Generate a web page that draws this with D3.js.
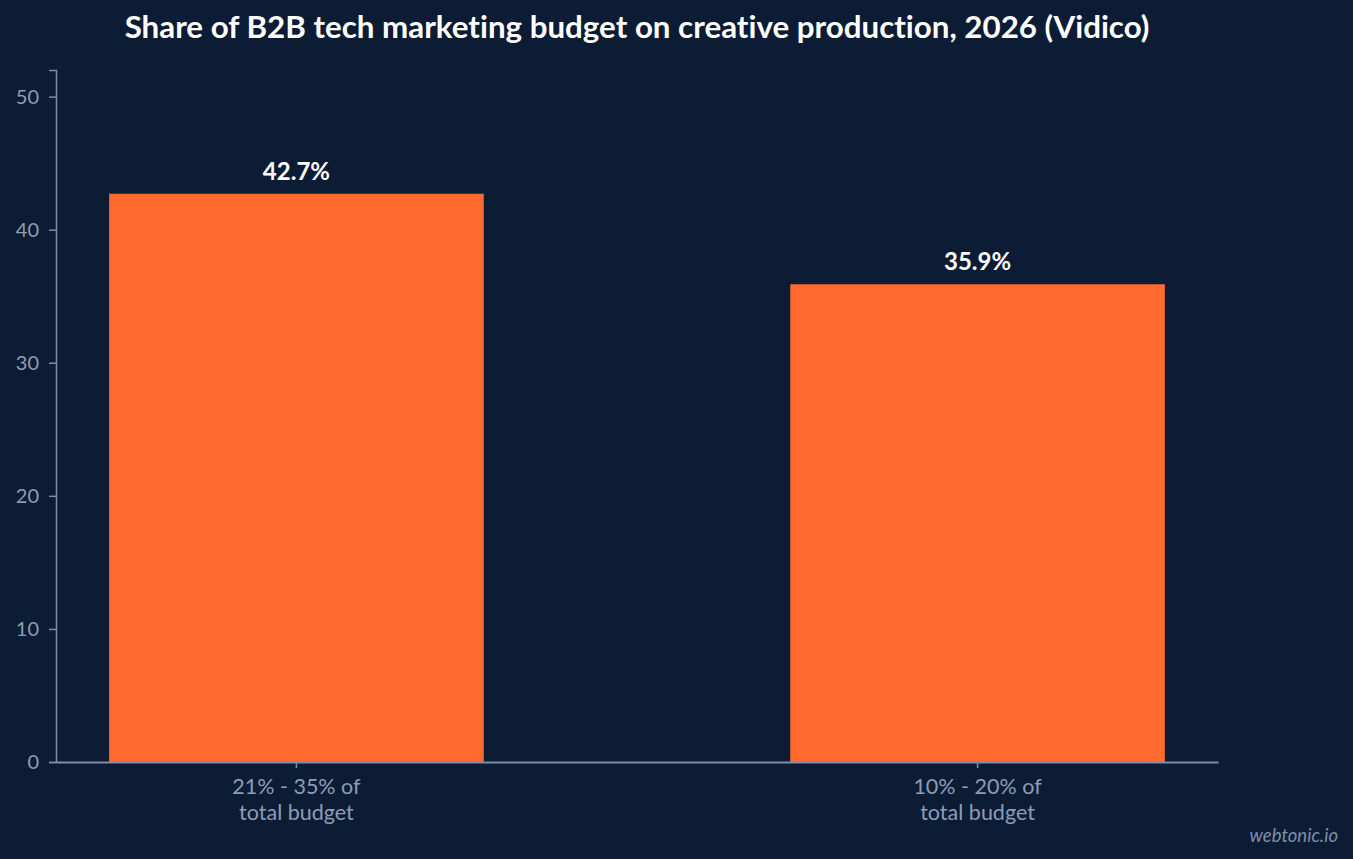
<!DOCTYPE html>
<html>
<head>
<meta charset="utf-8">
<script src="https://cdn.jsdelivr.net/npm/d3@7"></script>
<style>
  html, body { margin: 0; padding: 0; background: #0c1c34; }
  svg { display: block; font-family: Lato, "Open Sans", sans-serif; font-variant-ligatures: none; }
</style>
</head>
<body>
<svg id="chart"></svg>
<script>
// data
const categories = ["21% - 35% of\ntotal budget", "10% - 20% of\ntotal budget"];
const shares = [42.7, 35.9];
const yTicks = [0, 10, 20, 30, 40, 50];

const width = 1353, height = 859;
const margin = {top: 70, right: 135, bottom: 97, left: 56};

const svg = d3.select("#chart")
    .attr("width", width)
    .attr("height", height);

svg.append("rect")
    .attr("width", width)
    .attr("height", height)
    .attr("fill", "#0c1c34");

const data = categories.map((c, i) => ({cat: c, value: shares[i]}));

// scales
const x = d3.scaleBand()
    .domain(categories)
    .range([margin.left, width - margin.right])
    .paddingInner(0.45)
    .paddingOuter(0.078);

const y = d3.scaleLinear()
    .domain([0, 52])
    .range([height - margin.bottom, margin.top]);

const axisColor = "#7d8ea8";
const labelColor = "#8d9db6";

// bars
svg.append("g")
  .selectAll("rect")
  .data(data)
  .join("rect")
    .attr("x", d => x(d.cat))
    .attr("y", d => y(d.value))
    .attr("width", x.bandwidth())
    .attr("height", d => y(0) - y(d.value))
    .attr("fill", "#ff6a2f");

// value labels
svg.append("g")
  .selectAll("text")
  .data(data)
  .join("text")
    .attr("x", d => x(d.cat) + x.bandwidth() / 2)
    .attr("y", d => y(d.value) - 14)
    .attr("text-anchor", "middle")
    .attr("fill", "#ffffff")
    .attr("font-size", 24)
    .attr("font-weight", 700)
    .text(d => d.value.toFixed(1) + "%");

// y axis
const yAxis = svg.append("g")
    .attr("transform", `translate(${margin.left},0)`)
    .call(d3.axisLeft(y).tickValues(yTicks).tickSize(7).tickPadding(10));
yAxis.select(".domain").attr("stroke", axisColor).attr("stroke-width", 1.5);
yAxis.selectAll(".tick line").attr("stroke", axisColor).attr("stroke-width", 1.5);
yAxis.selectAll(".tick text")
    .attr("fill", labelColor)
    .attr("font-size", 20)
    .attr("font-family", "Lato, sans-serif");

// x axis
const xAxis = svg.append("g")
    .attr("transform", `translate(0,${height - margin.bottom})`)
    .call(d3.axisBottom(x).tickSize(6).tickSizeOuter(0).tickFormat(""));
xAxis.select(".domain").attr("stroke", axisColor).attr("stroke-width", 2);
xAxis.selectAll(".tick line").attr("stroke", axisColor).attr("stroke-width", 1.5);

// two-line category labels, one text per line
xAxis.selectAll(".tick").each(function(d) {
  const g = d3.select(this);
  d.split("\n").forEach((line, i) => {
    g.append("text")
        .attr("fill", labelColor)
        .attr("font-size", 21.5)
        .attr("font-family", "Lato, sans-serif")
        .attr("text-anchor", "middle")
        .attr("x", 0)
        .attr("y", 32 + i * 26)
        .text(line);
  });
});

// title
svg.append("text")
    .attr("x", 637)
    .attr("y", 38)
    .attr("text-anchor", "middle")
    .attr("fill", "#ffffff")
    .attr("font-size", 31.3)
    .attr("font-weight", 700)
    .text("Share of B2B tech marketing budget on creative production, 2026 (Vidico)");

// credit
svg.append("text")
    .attr("x", 1338)
    .attr("y", 842)
    .attr("text-anchor", "end")
    .attr("fill", "#7d8ea8")
    .attr("font-size", 18.5)
    .attr("font-style", "italic")
    .text("webtonic.io");
</script>
</body>
</html>
